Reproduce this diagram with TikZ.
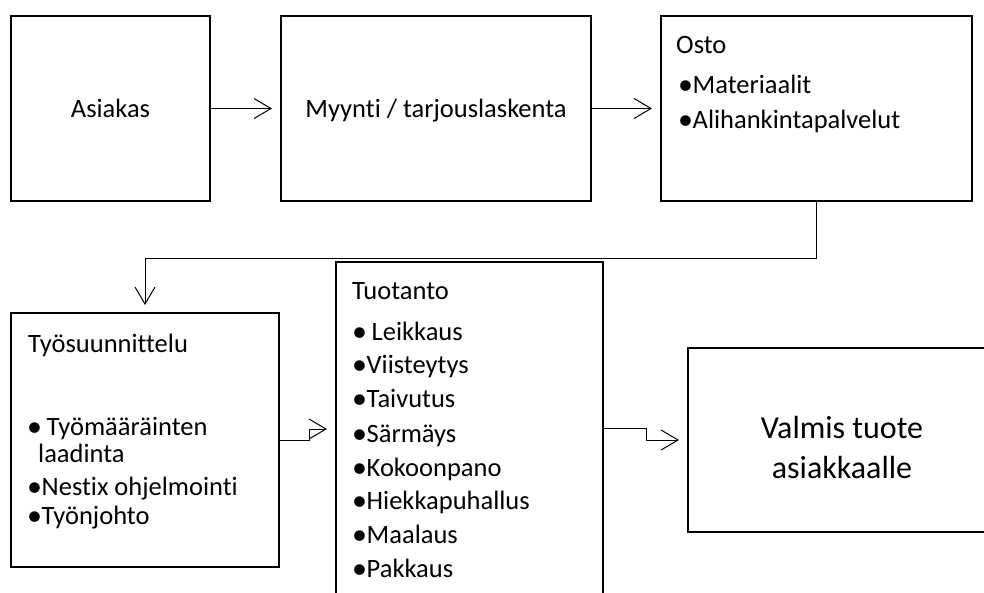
\documentclass[tikz,border=0pt]{standalone}
\usepackage{fontspec}
\setmainfont{Carlito}[Ligatures=NoCommon]
\usetikzlibrary{arrows.meta,calc}
\newcommand{\bulx}{\makebox[14.5pt][l]{\smash{\raisebox{-1.5pt}{\fontsize{30pt}{30pt}\selectfont •}}}}
\tikzset{
  box/.style={draw=black, line width=2pt, rectangle, inner sep=0pt, fill=white},
  conn/.style={draw=black, line width=1pt, -{Straight Barb[length=17pt,width=20pt,line width=1pt]}},
  txt/.style={font=\fontsize{26.5pt}{28pt}\selectfont, inner sep=0pt, anchor=base west},
  tight/.style={text height=18pt, text depth=2pt},
  bigtxt/.style={font=\fontsize{32pt}{34pt}\selectfont, inner sep=0pt, anchor=base},
}
\begin{document}
\begin{tikzpicture}[x=1pt,y=-1pt]
\useasboundingbox (0,0) rectangle (984,592);
\clip (0,0) rectangle (984,592);
\fill[white] (0,0) rectangle (984,592);
% boxes
\node[box, minimum width=199pt, minimum height=185pt] (asiakas) at (110.5,108.5) {};
\node[box, minimum width=310pt, minimum height=185pt] (myynti) at (436,108.5) {};
\node[box, minimum width=311pt, minimum height=185pt] (osto) at (816.5,108.5) {};
\node[box, minimum width=268pt, minimum height=254pt] (tyo) at (145,440) {};
\node[box, minimum width=267pt, minimum height=348pt] (tuot) at (469.5,436) {};
\node[box, minimum width=307pt, minimum height=184pt] (valmis) at (841.5,440) {};
% texts
\node[txt, anchor=base] (ta) at (110.5,117) {Asiakas};
\node[txt, anchor=base] (tm) at (436,117) {Myynti / tarjouslaskenta};
\node[txt] (o1) at (676,53) {Osto};
\node[txt] (o2) at (678,93) {\bulx Materiaalit};
\node[txt] (o3) at (678,128) {\bulx Alihankintapalvelut};
\node[txt] (w1) at (28,352) {Työsuunnittelu};
\node[txt, tight] (w2) at (27,435) {\bulx\hspace{5pt}Työmääräinten};
\node[txt, tight] (w3) at (38,462) {laadinta};
\node[txt, tight] (w4) at (27,495) {\bulx Nestix ohjelmointi};
\node[txt, tight] (w5) at (27,524) {\bulx Työnjohto};
\node[txt] (p0) at (352,299) {Tuotanto};
\node[txt] (p1) at (352,340) {\bulx\hspace{5pt}Leikkaus};
\node[txt] (p2) at (352,373) {\bulx Viisteytys};
\node[txt] (p3) at (352,407) {\bulx Taivutus};
\node[txt] (p4) at (352,442) {\bulx Särmäys};
\node[txt] (p5) at (352,476) {\bulx Kokoonpano};
\node[txt] (p6) at (352,509) {\bulx Hiekkapuhallus};
\node[txt] (p7) at (352,543) {\bulx Maalaus};
\node[txt] (p8) at (352,577) {\bulx Pakkaus};
\node[bigtxt] (v1) at (842,438) {Valmis tuote};
\node[bigtxt] (v2) at (842,478) {asiakkaalle};
% connectors
\draw[conn] (asiakas.east) -- ([xshift=-8pt]myynti.west);
\draw[conn] (myynti.east) -- ([xshift=-8pt]osto.west);
\draw[conn] (osto.south) -- ++(0,56) -| ([yshift=7pt]tyo.north);
\draw[conn] (tyo.east) -- ++(29,0) -- ++(0,-11) -- ([xshift=-8pt,yshift=7pt]tuot.west);
\draw[conn] ([yshift=8pt]tuot.east) -- ++(42,0) -- ++(0,12) -- ([xshift=-8pt]valmis.west);
\end{tikzpicture}
\end{document}
